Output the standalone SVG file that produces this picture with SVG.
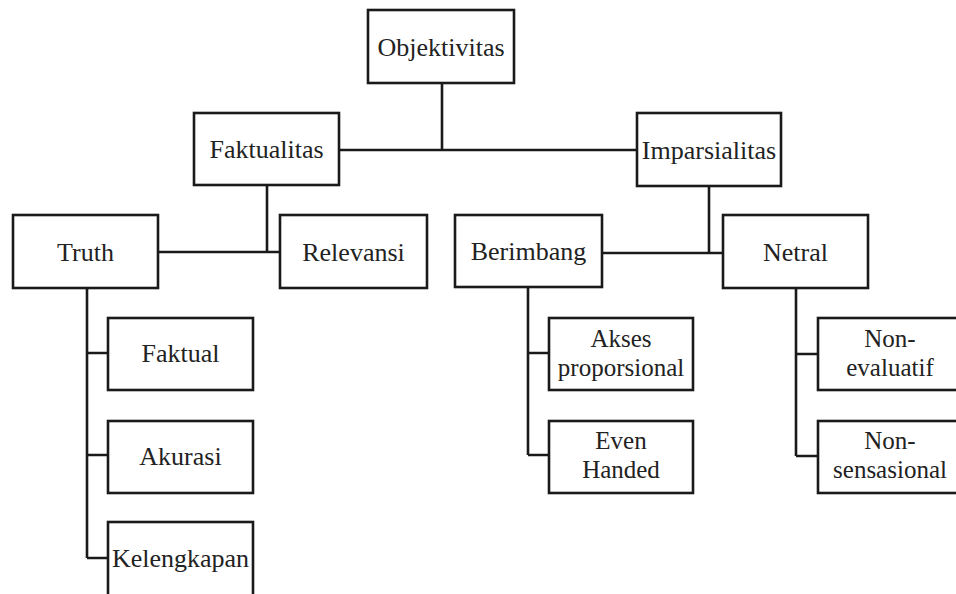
<svg xmlns="http://www.w3.org/2000/svg" width="956" height="594" viewBox="0 0 956 594">
<style>
.box{fill:#fff;stroke:#1a1a1a;stroke-width:2.6}
.t{font-family:"Liberation Serif","Times New Roman",serif;font-size:26px;fill:#222;text-anchor:middle}
.t2{font-family:"Liberation Serif","Times New Roman",serif;font-size:25px;fill:#222;text-anchor:middle}
.c{fill:none;stroke:#1a1a1a;stroke-width:2.6}
</style>
<rect width="956" height="594" fill="#fff"/>
<g id="connectors" class="c">
<path d="M442,83V150M339,150H637"/>
<path d="M267,185V252M158,252H280"/>
<path d="M709,186V253M602,253H723"/>
<path d="M87,288V558M87,353H108M87,455H108M87,558H108"/>
<path d="M528,287V455M528,353H549M528,455H549"/>
<path d="M796,288V456M796,354H818M796,456H818"/>
</g>
<g id="objektivitas"><rect class="box" x="368" y="10" width="146" height="73"/><text class="t" x="441" y="56">Objektivitas</text></g>
<g id="faktualitas"><rect class="box" x="194" y="113" width="145" height="72"/><text class="t" x="266.5" y="158">Faktualitas</text></g>
<g id="imparsialitas"><rect class="box" x="637" y="113" width="144" height="73"/><text class="t" x="709" y="159">Imparsialitas</text></g>
<g id="truth"><rect class="box" x="13" y="215" width="145" height="73"/><text class="t" x="85.5" y="261">Truth</text></g>
<g id="relevansi"><rect class="box" x="280" y="215" width="147" height="73"/><text class="t" x="353.5" y="261">Relevansi</text></g>
<g id="berimbang"><rect class="box" x="455" y="215" width="147" height="72"/><text class="t" x="528.5" y="260">Berimbang</text></g>
<g id="netral"><rect class="box" x="723" y="215" width="145" height="73"/><text class="t" x="795.5" y="261">Netral</text></g>
<g id="faktual"><rect class="box" x="108" y="318" width="145" height="72"/><text class="t" x="180.5" y="362">Faktual</text></g>
<g id="akurasi"><rect class="box" x="108" y="421" width="145" height="72"/><text class="t" x="180.5" y="465">Akurasi</text></g>
<g id="kelengkapan"><rect class="box" x="108" y="522" width="145" height="74"/><text class="t" x="180.5" y="567">Kelengkapan</text></g>
<g id="akses"><rect class="box" x="549" y="318" width="144" height="72"/><text class="t2" x="621" y="347">Akses</text><text class="t2" x="621" y="376">proporsional</text></g>
<g id="even"><rect class="box" x="549" y="421" width="144" height="72"/><text class="t2" x="621" y="449">Even</text><text class="t2" x="621" y="478">Handed</text></g>
<g id="nonevaluatif"><rect class="box" x="818" y="318" width="145" height="72"/><text class="t2" x="890" y="347">Non-</text><text class="t2" x="890" y="376">evaluatif</text></g>
<g id="nonsensasional"><rect class="box" x="818" y="421" width="145" height="72"/><text class="t2" x="890" y="449">Non-</text><text class="t2" x="890" y="478">sensasional</text></g>
</svg>
